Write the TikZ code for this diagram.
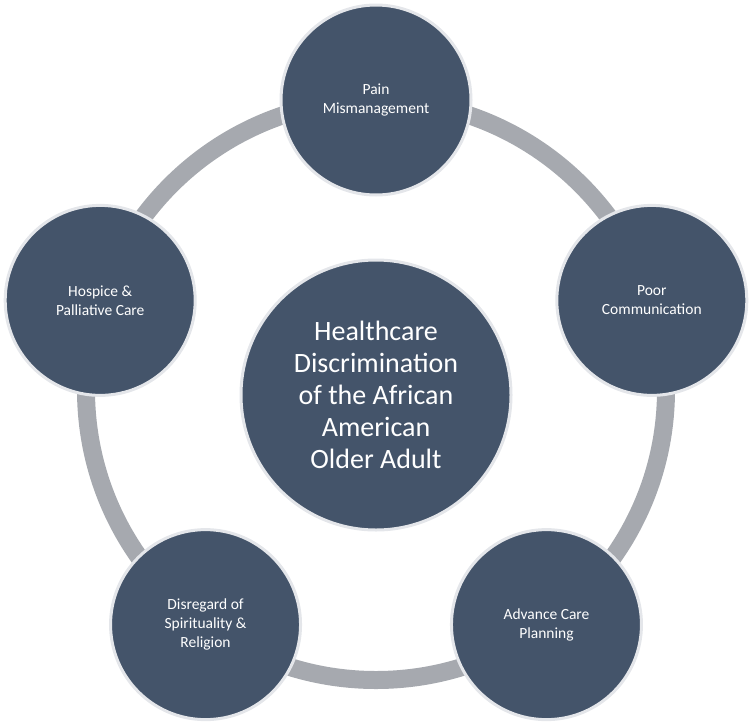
\documentclass[tikz,border=0pt]{standalone}
\usepackage{fontspec}
\setmainfont{Carlito}
\definecolor{fillc}{HTML}{44546A}
\definecolor{ringc}{HTML}{A6A9AF}
\definecolor{edgec}{HTML}{E4E6EA}
\begin{document}
\begin{tikzpicture}[x=1pt,y=-1pt,
  sat/.style={circle,fill=fillc,draw=edgec,line width=3pt,minimum size=190pt,inner sep=0pt,text=white,font=\fontsize{15.5}{19}\selectfont,align=center},
  hub/.style={circle,fill=fillc,draw=edgec,line width=3pt,minimum size=270pt,inner sep=0pt,text=white,font=\fontsize{28}{32}\selectfont,align=center}]
\useasboundingbox (0,0) rectangle (752,726);
\coordinate (c) at (376,390);
\draw[ringc,line width=18pt] (c) circle[radius=290];
\node[hub] (h) at (376,395) {Healthcare\\Discrimination\\of the African\\American\\Older Adult};
\node[sat] (a) at ([shift={(90:-290)}]c) {Pain\\Mismanagement};
\node[sat] (b) at ([shift={(18:-290)}]c) {Hospice \&\\Palliative Care};
\node[sat] (d) at ([shift={(162:-290)}]c) {Poor\\Communication};
\node[sat] (e) at ([shift={(234:-290)}]c) {Advance Care\\Planning};
\node[sat] (f) at ([shift={(306:-290)}]c) {Disregard of\\Spirituality \&\\Religion};
\end{tikzpicture}
\end{document}
